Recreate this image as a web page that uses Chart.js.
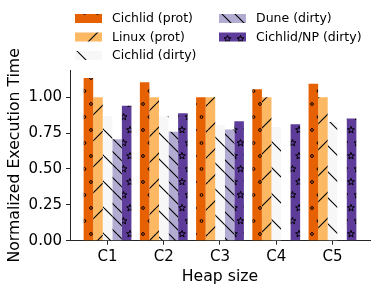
<!DOCTYPE html>
<html>
<head>
<meta charset="utf-8">
<script src="https://cdn.jsdelivr.net/npm/chart.js@4/dist/chart.umd.min.js"></script>
<style>
  html, body { margin: 0; padding: 0; background: #fff; }
  #wrap { width: 381px; height: 292px; }
</style>
</head>
<body>
<div id="wrap"><canvas id="grafico" width="381" height="292"></canvas></div>
<script>
// valores
const heapSizes = ['C1', 'C2', 'C3', 'C4', 'C5'];
const cichlidProt = [1.134, 1.104, 1.00, 1.056, 1.095];
const linuxProt = [1.00, 1.00, 1.00, 1.00, 1.00];
const cichlidDirty = [0.870, 0.868, 0.807, 0.793, 0.828];
const duneDirty = [0.708, 0.759, 0.775, null, null];
const cichlidNpDirty = [0.940, 0.889, 0.833, 0.812, 0.852];
const yTicks = [0, 0.25, 0.5, 0.75, 1.0];

const fonte = 'DejaVu Sans';

// padrões de hachura (ancorados na origem do canvas, como no matplotlib)
function padrao(cor, tipo) {
  const c = document.createElement('canvas');
  let w = 26, h = 26;
  if (tipo === 'o' || tipo === '*') { w = 13; h = 26; }
  if (tipo === '\\\\') { w = 13; h = 13; }
  c.width = w; c.height = h;
  const g = c.getContext('2d');
  g.fillStyle = cor;
  g.fillRect(0, 0, w, h);
  g.strokeStyle = '#000';
  g.lineWidth = 1.1;
  if (tipo === '/') {
    g.beginPath();
    for (let k = -1; k <= 1; k++) { g.moveTo(k * w, h); g.lineTo(k * w + w, 0); }
    g.stroke();
  } else if (tipo === '\\' || tipo === '\\\\') {
    g.beginPath();
    for (let k = -1; k <= 1; k++) { g.moveTo(k * w, 0); g.lineTo(k * w + w, h); }
    g.stroke();
  } else if (tipo === 'o') {
    const pts = [[0, 0], [w, 0], [0, h], [w, h], [w / 2, h / 2]];
    g.lineWidth = 1;
    pts.forEach(([x, y]) => {
      g.beginPath();
      g.arc(x, y, 1.4, 0, Math.PI * 2);
      g.stroke();
    });
  } else if (tipo === '*') {
    const pts = [[0, 0], [w, 0], [0, h], [w, h], [w / 2, h / 2]];
    g.lineWidth = 1;
    pts.forEach(([x, y]) => {
      g.beginPath();
      for (let i = 0; i < 10; i++) {
        const r = i % 2 === 0 ? 3.6 : 1.5;
        const a = -Math.PI / 2 + i * Math.PI / 5;
        const px = x + r * Math.cos(a), py = y + r * Math.sin(a);
        if (i === 0) g.moveTo(px, py); else g.lineTo(px, py);
      }
      g.closePath();
      g.stroke();
    });
  }
  return g.createPattern(c, 'repeat');
}

function serie(valores) {
  return valores.map((v, i) => ({ x: i, y: v }));
}

const datasets = [
  { label: 'Cichlid (prot)', data: serie(cichlidProt), backgroundColor: padrao('#e66101', 'o') },
  { label: 'Linux (prot)', data: serie(linuxProt), backgroundColor: padrao('#fdb863', '/') },
  { label: 'Cichlid (dirty)', data: serie(cichlidDirty), backgroundColor: padrao('#f7f7f7', '\\') },
  { label: 'Dune (dirty)', data: serie(duneDirty), backgroundColor: padrao('#b2abd2', '\\\\') },
  { label: 'Cichlid/NP (dirty)', data: serie(cichlidNpDirty), backgroundColor: padrao('#5e3c99', '*') }
];

// legenda em duas colunas (ordem por coluna, como no original)
const legendaColunas = {
  id: 'legendaColunas',
  afterDraw(chart) {
    const ctx = chart.ctx;
    ctx.save();
    ctx.font = '12.5px "' + fonte + '"';
    ctx.textBaseline = 'middle';
    ctx.fillStyle = '#000';
    const colX = [75, 219];
    const rowY = [18.5, 37, 55.5];
    chart.data.datasets.forEach((ds, i) => {
      const col = i < 3 ? 0 : 1;
      const row = i < 3 ? i : i - 3;
      const x = colX[col], y = rowY[row];
      ctx.fillStyle = ds.backgroundColor;
      ctx.fillRect(x, y - 4.5, 27, 9);
      ctx.fillStyle = '#000';
      ctx.fillText(ds.label, x + 37, y + 0.5);
    });
    ctx.restore();
  }
};

const corEixo = '#262626';

new Chart(document.getElementById('grafico'), {
  type: 'bar',
  data: { datasets: datasets },
  plugins: [legendaColunas],
  options: {
    responsive: false,
    animation: false,
    layout: { padding: { top: 70, right: 11, left: 0, bottom: 0 } },
    datasets: {
      bar: { categoryPercentage: 0.85, barPercentage: 1.0, borderWidth: 0 }
    },
    plugins: {
      legend: { display: false },
      tooltip: { enabled: false }
    },
    scales: {
      x: {
        type: 'linear',
        offset: false,
        min: -0.6675,
        max: 4.6675,
        afterBuildTicks: axis => { axis.ticks = heapSizes.map((_, i) => ({ value: i })); },
        afterFit: axis => { axis.height = 51.3; },
        ticks: {
          callback: v => heapSizes[v],
          color: '#000',
          padding: 3,
          autoSkip: false,
          maxRotation: 0,
          font: { family: fonte, size: 15 }
        },
        grid: { display: true, drawOnChartArea: false, tickLength: 4, tickColor: corEixo, offset: false },
        border: { display: true, color: corEixo, width: 1 },
        title: {
          display: true,
          text: 'Heap size',
          color: '#000',
          font: { family: fonte, size: 15.7 },
          padding: { top: 0, bottom: 6 }
        }
      },
      y: {
        min: 0,
        max: 1.19,
        afterBuildTicks: axis => { axis.ticks = yTicks.map(v => ({ value: v })); },
        afterFit: axis => { axis.width = 70; },
        ticks: {
          callback: v => Number(v).toFixed(2),
          color: '#000',
          padding: 4,
          font: { family: fonte, size: 15 }
        },
        grid: { display: true, drawOnChartArea: false, tickLength: 4, tickColor: corEixo },
        border: { display: true, color: corEixo, width: 1 },
        title: {
          display: true,
          text: 'Normalized Execution Time',
          color: '#000',
          font: { family: fonte, size: 15.7 },
          padding: { top: 6, bottom: 0 }
        }
      }
    }
  }
});
</script>
</body>
</html>
